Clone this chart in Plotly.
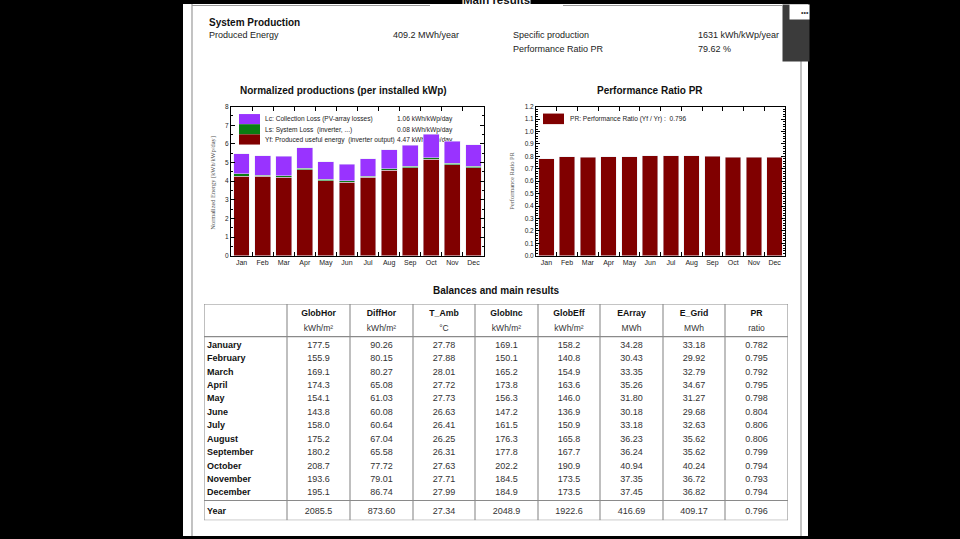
import plotly.graph_objects as go

W, H = 960, 539

# ---------------- data ----------------
months = ["Jan", "Feb", "Mar", "Apr", "May", "Jun", "Jul", "Aug", "Sep", "Oct", "Nov", "Dec"]
month_names = ["January", "February", "March", "April", "May", "June", "July",
               "August", "September", "October", "November", "December"]

# Normalized productions (kWh/kWp/day)
yf_produced = [4.27, 4.26, 4.22, 4.61, 4.02, 3.94, 4.20, 4.58, 4.73, 5.17, 4.88, 4.73]
ls_system_loss = [0.14, 0.07, 0.07, 0.08, 0.07, 0.07, 0.07, 0.08, 0.08, 0.09, 0.08, 0.08]
lc_collection_loss = [1.05, 1.03, 1.04, 1.11, 0.95, 0.90, 0.94, 1.03, 1.11, 1.26, 1.19, 1.15]
left_legend_labels = ["Lc: Collection Loss (PV-array losses)",
                      "Ls: System Loss\u00a0 (inverter, ...)",
                      "Yf: Produced useful energy\u00a0 (inverter output)"]
left_legend_values = ["1.06 kWh/kWp/day", "0.08 kWh/kWp/day", "4.47 kWh/kWp/day"]

# Performance ratio
pr_ratio = [0.782, 0.795, 0.792, 0.795, 0.798, 0.804, 0.806, 0.806, 0.799, 0.794, 0.793, 0.794]
pr_year = 0.796

# Balances and main results table
table_headers = ["GlobHor", "DiffHor", "T_Amb", "GlobInc", "GlobEff", "EArray", "E_Grid", "PR"]
table_units = ["kWh/m²", "kWh/m²", "°C", "kWh/m²", "kWh/m²", "MWh", "MWh", "ratio"]
glob_hor = [177.5, 155.9, 169.1, 174.3, 154.1, 143.8, 158.0, 175.2, 180.2, 208.7, 193.6, 195.1]
diff_hor = [90.26, 80.15, 80.27, 65.08, 61.03, 60.08, 60.64, 67.04, 65.58, 77.72, 79.01, 86.74]
t_amb = [27.78, 27.88, 28.01, 27.72, 27.73, 26.63, 26.41, 26.25, 26.31, 27.63, 27.71, 27.99]
glob_inc = [169.1, 150.1, 165.2, 173.8, 156.3, 147.2, 161.5, 176.3, 177.8, 202.2, 184.5, 184.9]
glob_eff = [158.2, 140.8, 154.9, 163.6, 146.0, 136.9, 150.9, 165.8, 167.7, 190.9, 173.5, 173.5]
e_array = [34.28, 30.43, 33.35, 35.26, 31.80, 30.18, 33.18, 36.23, 36.24, 40.94, 37.35, 37.45]
e_grid = [33.18, 29.92, 32.79, 34.67, 31.27, 29.68, 32.63, 35.62, 35.62, 40.24, 36.72, 36.82]
pr_table = pr_ratio
year_row = [2085.5, 873.60, 27.34, 2048.9, 1922.6, 416.69, 409.17, 0.796]
col_decimals = [1, 2, 2, 1, 1, 2, 2, 3]

# Header summary
summary_left = [("Produced Energy", "409.2 MWh/year")]
summary_right = [("Specific production", "1631 kWh/kWp/year"), ("Performance Ratio PR", "79.62 %")]

# ---------------- helpers ----------------
FONT = "Liberation Sans, Arial, sans-serif"
SERIF = "Liberation Serif, Times New Roman, serif"
C_RED = "#800000"
C_GREEN = "#0b7d12"
C_PURPLE = "#9933ff"


def X(p):
    return p / W


def Y(p):
    return 1 - p / H


LEFT = (231, 484, 104, 255)
RIGHT = (536, 785, 104, 255)
TABLE = (204, 788, 304, 523)

fig = go.Figure()

# ---- left chart: bars on overlay axes (x2/y2), legend text on base axes (x/y) ----
fig.add_trace(go.Scatter(x=[265] * 3, y=[117.3, 127.7, 137.7], text=left_legend_labels,
                         mode="text", textposition="middle right", xaxis="x", yaxis="y",
                         textfont=dict(family=FONT, size=6.6, color="#222"), hoverinfo="skip"))
fig.add_trace(go.Scatter(x=[397] * 3, y=[117.3, 127.7, 137.7], text=left_legend_values,
                         mode="text", textposition="middle right", xaxis="x", yaxis="y",
                         textfont=dict(family=FONT, size=6.6, color="#222"), hoverinfo="skip"))
fig.add_trace(go.Bar(x=months, y=yf_produced, marker_color=C_RED, xaxis="x2", yaxis="y2",
                     name="Yf"))
fig.add_trace(go.Bar(x=months, y=ls_system_loss, marker_color=C_GREEN, xaxis="x2", yaxis="y2",
                     name="Ls"))
fig.add_trace(go.Bar(x=months, y=lc_collection_loss, marker_color=C_PURPLE, xaxis="x2",
                     yaxis="y2", name="Lc"))

# ---- right chart ----
fig.add_trace(go.Bar(x=months, y=pr_ratio, marker_color=C_RED, xaxis="x3", yaxis="y3", name="PR"))

# ---- table ----
col_edges = [204, 287, 350, 413, 475, 538, 600, 663, 725, 788]
col_centers = [(col_edges[i + 1] + col_edges[i + 2]) / 2 for i in range(len(table_headers))]
row_y = [346 + 13.6 * i for i in range(len(month_names))]
header_y, units_y, year_y = 314, 329, 514

columns = [glob_hor, diff_hor, t_amb, glob_inc, glob_eff, e_array, e_grid, pr_table]

fig.add_trace(go.Scatter(x=col_centers, y=[header_y] * 8, text=["<b>%s</b>" % h for h in table_headers],
                         mode="text", textposition="middle center", xaxis="x4", yaxis="y4",
                         textfont=dict(family=FONT, size=8.7, color="#111"), hoverinfo="skip"))
fig.add_trace(go.Scatter(x=col_centers, y=[units_y] * 8, text=table_units,
                         mode="text", textposition="middle center", xaxis="x4", yaxis="y4",
                         textfont=dict(family=FONT, size=8.5, color="#333"), hoverinfo="skip"))
fig.add_trace(go.Scatter(x=[207] * 13, y=row_y + [year_y],
                         text=["<b>%s</b>" % m for m in month_names] + ["<b>Year</b>"],
                         mode="text", textposition="middle right", xaxis="x4", yaxis="y4",
                         textfont=dict(family=FONT, size=9, color="#111"), hoverinfo="skip"))
for ci, col in enumerate(columns):
    d = col_decimals[ci]
    vals = [f"{v:.{d}f}" for v in col] + [f"{year_row[ci]:.{d}f}"]
    fig.add_trace(go.Scatter(x=[col_centers[ci]] * 13, y=row_y + [year_y], text=vals,
                             mode="text", textposition="middle center", xaxis="x4", yaxis="y4",
                             textfont=dict(family=FONT, size=9, color="#333"), hoverinfo="skip"))

# ---------------- layout ----------------
frame = dict(showline=True, linecolor="black", linewidth=1, mirror="ticks", ticks="inside",
             ticklen=4, tickcolor="black", tickwidth=1, showgrid=False, zeroline=False,
             tickfont=dict(family=FONT, size=7, color="#222"), fixedrange=True)
hidden = dict(visible=False, showgrid=False, zeroline=False, fixedrange=True)

shapes = []
annotations = []

# page
shapes.append(dict(type="rect", xref="paper", yref="paper", x0=X(183), x1=X(808), y0=0, y1=1,
                   fillcolor="white", line_width=0, layer="below"))
for (x0, y0, x1, y1) in [(192, 0, 192, 539), (192, 1.5, 430, 1.5), (563, 1.5, 782, 1.5),
                         (801, 56, 801, 539)]:
    shapes.append(dict(type="line", xref="paper", yref="paper", x0=X(x0), x1=X(x1), y0=Y(y0),
                       y1=Y(y1), line=dict(color="#9a9a9a", width=1.2)))

# legend swatches
for i, c in enumerate([C_PURPLE, C_GREEN, C_RED]):
    shapes.append(dict(type="rect", xref="paper", yref="paper", x0=X(239), x1=X(260),
                       y0=Y(111.5 + 10.3 * (i + 1)), y1=Y(111.5 + 10.3 * i), fillcolor=c,
                       line_width=0))
shapes.append(dict(type="rect", xref="paper", yref="paper", x0=X(543), x1=X(564), y0=Y(121.7),
                   y1=Y(111), fillcolor=C_RED, line_width=0))

# table lines
tl, tr, tt, tb = TABLE
for yy in [tt, 337, 503, tb]:
    shapes.append(dict(type="line", xref="x4", yref="y4", x0=tl, x1=tr, y0=yy, y1=yy,
                       line=dict(color="#8a8a8a", width=1.1)))
for xx in col_edges:
    shapes.append(dict(type="line", xref="x4", yref="y4", x0=xx, x1=xx, y0=tt, y1=tb,
                       line=dict(color="#8a8a8a", width=1.1)))


def ann(text, x, y, size=9, bold=False, xanchor="left", color="#222", family=FONT, angle=0,
        bg=None):
    d = dict(text=("<b>%s</b>" % text) if bold else text, xref="paper", yref="paper", x=X(x),
             y=Y(y), xanchor=xanchor, yanchor="middle", showarrow=False, textangle=angle,
             font=dict(family=family, size=size, color=color), borderpad=0)
    if bg:
        d["bgcolor"] = bg
    annotations.append(d)


ann("Main results", 496.5, -4, size=11.5, bold=True, xanchor="center", color="#111", bg="white")
ann("System Production", 208, 18.5, size=10, bold=True, color="#111")
ann(summary_left[0][0], 208, 31.5, size=9)
ann(summary_left[0][1], 392, 31.5, size=9)
ann(summary_right[0][0], 512, 31.5, size=9)
ann(summary_right[0][1], 697, 31.5, size=9)
ann(summary_right[1][0], 512, 45.5, size=9)
ann(summary_right[1][1], 697, 45.5, size=9)

ann("Normalized productions (per installed kWp)", 343.5, 87.5, size=10, bold=True,
    xanchor="center", color="#111")
ann("Performance Ratio PR", 649.5, 87.5, size=10, bold=True, xanchor="center", color="#111")
ann("Balances and main results", 496.5, 290, size=10, bold=True, xanchor="center", color="#111")

ann("Normalized Energy [kWh/kWp/day]", 213, 181, size=6.4, xanchor="center", color="#555",
    family=SERIF, angle=-90)
ann("Performance Ratio PR", 512, 179, size=6.4, xanchor="center", color="#555",
    family=SERIF, angle=-90)
ann("PR: Performance Ratio (Yf / Yr) :\u00a0 %.3f" % pr_year, 569, 116.5, size=6.6)

# viewer overlay at the top right corner (drawn last so it covers text)
annotations.append(dict(text=" ", xref="paper", yref="paper", x=X(782), y=Y(0), xanchor="left",
                        yanchor="top", width=26, height=56, bgcolor="#3b3b3b", borderpad=0,
                        showarrow=False))
annotations.append(dict(text="•••", xref="paper", yref="paper", x=X(789), y=Y(0),
                        xanchor="left", yanchor="top", width=19, height=14, bgcolor="white",
                        borderpad=0, showarrow=False, align="right",
                        font=dict(family=FONT, size=7, color="#333")))

fig.update_layout(
    width=W, height=H, autosize=False, margin=dict(l=0, r=0, t=0, b=0),
    paper_bgcolor="black", plot_bgcolor="white", showlegend=False,
    barmode="stack", bargap=0.25,
    xaxis=dict(domain=[X(LEFT[0]), X(LEFT[1])], range=[LEFT[0], LEFT[1]], anchor="y", **hidden),
    yaxis=dict(domain=[Y(LEFT[3]), Y(LEFT[2])], range=[LEFT[3], LEFT[2]], anchor="x", **hidden),
    xaxis2=dict(overlaying="x", anchor="y2", type="category", tickson="boundaries",
                range=[-0.5, 11.5], tickangle=0, **frame),
    yaxis2=dict(overlaying="y", anchor="x2", range=[0, 8], dtick=1,
                minor=dict(ticks="inside", ticklen=2, dtick=0.5, tickcolor="black"),
                **{**frame, "tickfont": dict(family=FONT, size=6.5, color="#222")}),
    xaxis3=dict(domain=[X(RIGHT[0]), X(RIGHT[1])], anchor="y3", type="category",
                tickson="boundaries", range=[-0.5, 11.5], tickangle=0, **frame),
    yaxis3=dict(domain=[Y(RIGHT[3]), Y(RIGHT[2])], anchor="x3", range=[0, 1.2], dtick=0.1,
                tickformat=".1f",
                minor=dict(ticks="inside", ticklen=2, dtick=0.02, tickcolor="black"),
                **{**frame, "tickfont": dict(family=FONT, size=6.5, color="#222")}),
    xaxis4=dict(domain=[X(TABLE[0]), X(TABLE[1])], range=[TABLE[0], TABLE[1]], anchor="y4",
                **hidden),
    yaxis4=dict(domain=[Y(TABLE[3]), Y(TABLE[2])], range=[TABLE[3], TABLE[2]], anchor="x4",
                **hidden),
    shapes=shapes, annotations=annotations,
)

fig.write_html(
    "out.html",
    config={"displayModeBar": False},
    post_script="document.body.style.margin='0';document.body.style.padding='0';"
                "document.body.style.overflow='hidden';document.body.style.background='black';",
)
